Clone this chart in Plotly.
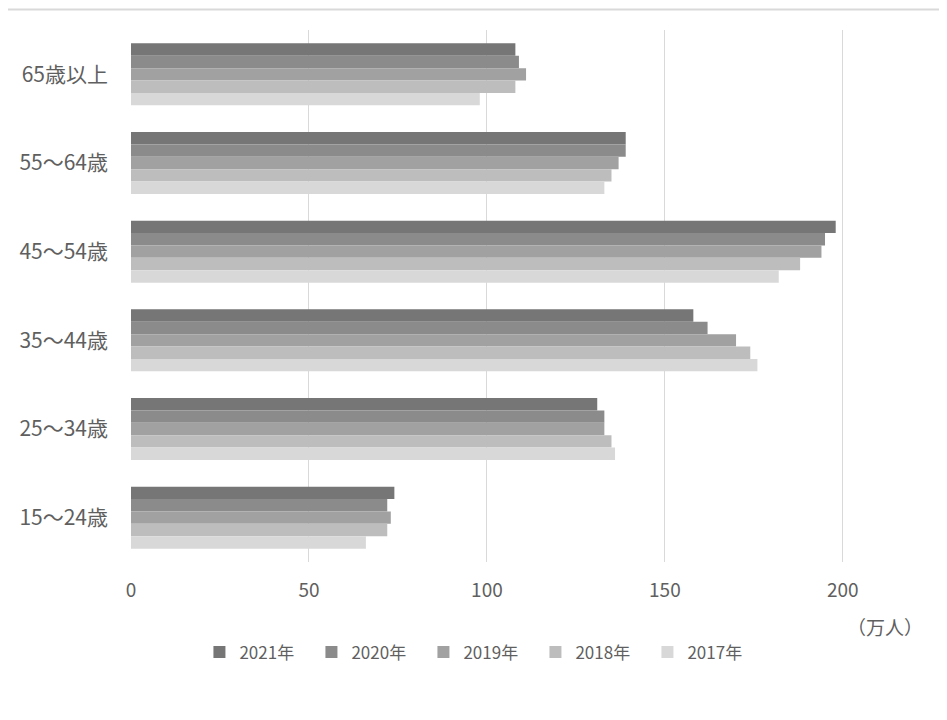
import plotly.graph_objects as go

categories = ["65歳以上", "55～64歳", "45～54歳", "35～44歳", "25～34歳", "15～24歳"]
years = ["2021年", "2020年", "2019年", "2018年", "2017年"]
v2021 = [108, 139, 198, 158, 131, 74]
v2020 = [109, 139, 195, 162, 133, 72]
v2019 = [111, 137, 194, 170, 133, 73]
v2018 = [108, 135, 188, 174, 135, 72]
v2017 = [98, 133, 182, 176, 136, 66]
series = [v2021, v2020, v2019, v2018, v2017]
colors = ["#767676", "#8b8b8b", "#a1a1a1", "#bdbdbd", "#d8d8d8"]
x_ticks = [0, 50, 100, 150, 200]

fig = go.Figure()
for name, vals, col in zip(years, series, colors):
    fig.add_trace(go.Bar(y=categories, x=vals, name=name, orientation="h",
                         marker=dict(color=col, line=dict(width=0))))

font = "Noto Sans CJK JP"
txt = "#5f5f5f"
fig.update_layout(
    width=947, height=720,
    paper_bgcolor="white", plot_bgcolor="white",
    margin=dict(l=123, r=41, t=22, b=166),
    barmode="group", bargap=0.3, bargroupgap=0,
    font=dict(family=font, size=15, color=txt),
    xaxis=dict(range=[0, 220], tickvals=x_ticks, showgrid=True, gridcolor="#d9d9d9",
               gridwidth=1, zeroline=False, showline=False, ticks="",
               tickfont=dict(size=19, color=txt), ticklabelstandoff=15),
    yaxis=dict(autorange="reversed", showgrid=False, showline=False, ticks="",
               tickfont=dict(size=21, color=txt), ticklabelstandoff=22),
    legend=dict(orientation="h", x=0.445, xanchor="center", y=-0.170, yanchor="middle",
                font=dict(size=17, color=txt), itemwidth=30, entrywidth=67,
                entrywidthmode="pixels", traceorder="normal"),
    showlegend=True,
)
fig.add_annotation(text="（万人）", xref="paper", yref="paper", x=0.963, y=-0.121,
                   xanchor="center", yanchor="middle",
                   showarrow=False, font=dict(size=19, color=txt))
fig.add_shape(type="line", xref="paper", yref="paper", x0=-0.16, x1=1.06,
              y0=1.0387, y1=1.0387, line=dict(color="#d9d9d9", width=2))
fig.write_html("out.html")
